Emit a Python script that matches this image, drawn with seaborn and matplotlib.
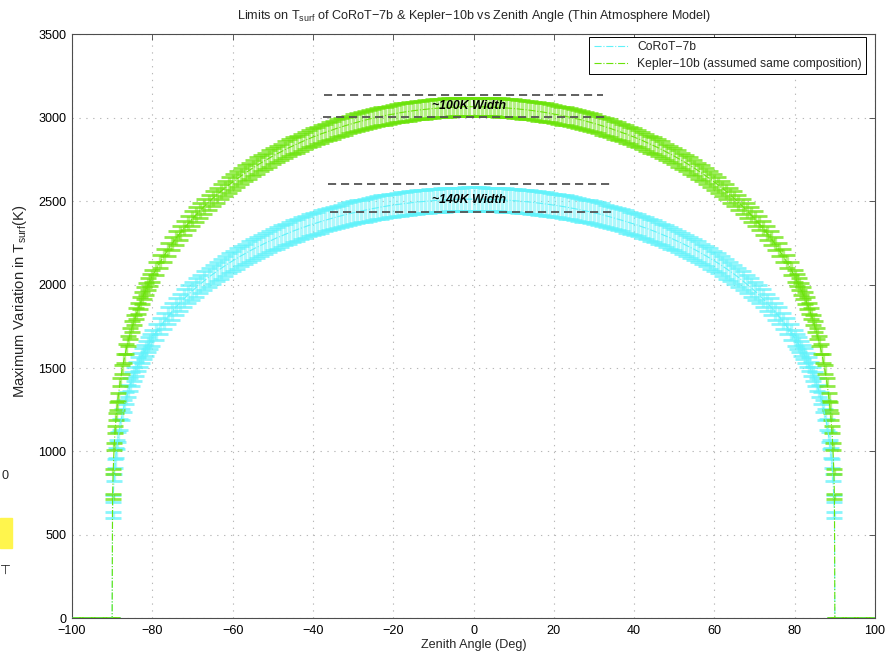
import matplotlib
matplotlib.use("Agg")
import matplotlib.pyplot as plt
import numpy as np
import pandas as pd
import seaborn as sns
from matplotlib.lines import Line2D
from matplotlib.patches import Rectangle

# Zenith angle samples (deg)
zenith_deg = [
    -100, -99, -98, -97, -96, -95, -94, -93, -92, -91, -90,
    -89.9, -89.75, -89.5, -89.25,
    -89, -88, -87, -86, -85, -84, -83, -82, -81, -80,
    -79, -78, -77, -76, -75, -74, -73, -72, -71, -70,
    -69, -68, -67, -66, -65, -64, -63, -62, -61, -60,
    -59, -58, -57, -56, -55, -54, -53, -52, -51, -50,
    -49, -48, -47, -46, -45, -44, -43, -42, -41, -40,
    -39, -38, -37, -36, -35, -34, -33, -32, -31, -30,
    -29, -28, -27, -26, -25, -24, -23, -22, -21, -20,
    -19, -18, -17, -16, -15, -14, -13, -12, -11, -10,
    -9, -8, -7, -6, -5, -4, -3, -2, -1,
    0,
    1, 2, 3, 4, 5, 6, 7, 8, 9,
    10, 11, 12, 13, 14, 15, 16, 17, 18, 19,
    20, 21, 22, 23, 24, 25, 26, 27, 28, 29,
    30, 31, 32, 33, 34, 35, 36, 37, 38, 39,
    40, 41, 42, 43, 44, 45, 46, 47, 48, 49,
    50, 51, 52, 53, 54, 55, 56, 57, 58, 59,
    60, 61, 62, 63, 64, 65, 66, 67, 68, 69,
    70, 71, 72, 73, 74, 75, 76, 77, 78, 79,
    80, 81, 82, 83, 84, 85, 86, 87, 88, 89,
    89.25, 89.5, 89.75, 89.9,
    90, 91, 92, 93, 94, 95, 96, 97, 98, 99, 100,
]

# Surface temperature of CoRoT-7b (K)
corot_tsurf = [
    0, 0, 0, 0, 0, 0, 0, 0, 0, 0, 0,
    620, 720, 844, 927,
    990, 1161, 1275, 1362, 1433, 1494, 1548, 1596, 1640, 1679,
    1716, 1750, 1782, 1812, 1841, 1868, 1893, 1917, 1941, 1963,
    1984, 2004, 2024, 2043, 2061, 2078, 2095, 2111, 2127, 2142,
    2156, 2171, 2184, 2198, 2211, 2223, 2235, 2247, 2258, 2269,
    2280, 2290, 2300, 2310, 2320, 2329, 2338, 2346, 2355, 2363,
    2370, 2378, 2385, 2392, 2399, 2406, 2412, 2419, 2425, 2430,
    2436, 2441, 2446, 2451, 2456, 2460, 2465, 2469, 2473, 2476,
    2480, 2483, 2486, 2489, 2492, 2495, 2497, 2499, 2501, 2503,
    2505, 2506, 2508, 2509, 2510, 2511, 2511, 2512, 2512,
    2512,
    2512, 2512, 2511, 2511, 2510, 2509, 2508, 2506, 2505,
    2503, 2501, 2499, 2497, 2495, 2492, 2489, 2486, 2483, 2480,
    2476, 2473, 2469, 2465, 2460, 2456, 2451, 2446, 2441, 2436,
    2430, 2425, 2419, 2412, 2406, 2399, 2392, 2385, 2378, 2370,
    2363, 2355, 2346, 2338, 2329, 2320, 2310, 2300, 2290, 2280,
    2269, 2258, 2247, 2235, 2223, 2211, 2198, 2184, 2171, 2156,
    2142, 2127, 2111, 2095, 2078, 2061, 2043, 2024, 2004, 1984,
    1963, 1941, 1917, 1893, 1868, 1841, 1812, 1782, 1750, 1716,
    1679, 1640, 1596, 1548, 1494, 1433, 1362, 1275, 1161, 990,
    927, 844, 720, 620,
    0, 0, 0, 0, 0, 0, 0, 0, 0, 0, 0,
]

# Surface temperature of Kepler-10b (K)
kepler_tsurf = [
    0, 0, 0, 0, 0, 0, 0, 0, 0, 0, 0,
    730, 878, 1030, 1131,
    1208, 1417, 1556, 1662, 1749, 1824, 1889, 1948, 2001, 2050,
    2095, 2136, 2175, 2212, 2247, 2280, 2311, 2340, 2369, 2396,
    2421, 2446, 2470, 2493, 2515, 2536, 2557, 2577, 2596, 2614,
    2632, 2649, 2666, 2682, 2698, 2713, 2728, 2742, 2756, 2770,
    2783, 2795, 2808, 2820, 2831, 2842, 2853, 2864, 2874, 2884,
    2893, 2903, 2911, 2920, 2928, 2937, 2944, 2952, 2959, 2966,
    2973, 2979, 2986, 2992, 2997, 3003, 3008, 3013, 3018, 3022,
    3027, 3031, 3035, 3038, 3042, 3045, 3048, 3050, 3053, 3055,
    3057, 3059, 3061, 3062, 3063, 3064, 3065, 3066, 3066,
    3066,
    3066, 3066, 3065, 3064, 3063, 3062, 3061, 3059, 3057,
    3055, 3053, 3050, 3048, 3045, 3042, 3038, 3035, 3031, 3027,
    3022, 3018, 3013, 3008, 3003, 2997, 2992, 2986, 2979, 2973,
    2966, 2959, 2952, 2944, 2937, 2928, 2920, 2911, 2903, 2893,
    2884, 2874, 2864, 2853, 2842, 2831, 2820, 2808, 2795, 2783,
    2770, 2756, 2742, 2728, 2713, 2698, 2682, 2666, 2649, 2632,
    2614, 2596, 2577, 2557, 2536, 2515, 2493, 2470, 2446, 2421,
    2396, 2369, 2340, 2311, 2280, 2247, 2212, 2175, 2136, 2095,
    2050, 2001, 1948, 1889, 1824, 1749, 1662, 1556, 1417, 1208,
    1131, 1030, 878, 730,
    0, 0, 0, 0, 0, 0, 0, 0, 0, 0, 0,
]

# Extra samples on the steep limbs (deg, K)
zenith_limb = [
    -88.75, -88.5, -87.5, -86.5, -85.5, -84.5, -83.5, -82.5, -81.5, -80.5,
    80.5, 81.5, 82.5, 83.5, 84.5, 85.5, 86.5, 87.5, 88.5, 88.75,
]
corot_limb = [
    1042, 1087, 1222, 1320, 1399, 1465, 1522, 1573, 1618, 1660,
    1660, 1618, 1573, 1522, 1465, 1399, 1320, 1222, 1087, 1042,
]
kepler_limb = [
    1272, 1326, 1492, 1612, 1707, 1788, 1858, 1920, 1975, 2026,
    2026, 1975, 1920, 1858, 1788, 1707, 1612, 1492, 1326, 1272,
]

# Relative half-width of each temperature limit
corot_rel_err = 0.028
kepler_rel_err = 0.018

series_names = ["CoRoT\u22127b", "Kepler\u221210b (assumed same composition)"]
x_ticks = [-100, -80, -60, -40, -20, 0, 20, 40, 60, 80, 100]
y_ticks = [0, 500, 1000, 1500, 2000, 2500, 3000, 3500]

# Width guide lines: (x start, x end) and level (K)
guide_x = [(-37.2, 32.3), (-37.6, 33.5), (-36.2, 34.5), (-35.7, 35.2)]
guide_T = [3135, 3005, 2602, 2436]
width_texts = ["~100K Width", "~140K Width"]
width_text_pos = [(-1.0, 3070), (-1.0, 2508)]

cyan = (0.38, 0.95, 0.98)
green = (0.42, 0.89, 0.04)

sns.set_theme(style="white")
plt.rcParams["font.family"] = ["Liberation Sans", "DejaVu Sans"]
plt.rcParams["mathtext.fontset"] = "custom"
plt.rcParams["mathtext.rm"] = "Liberation Sans"
plt.rcParams["mathtext.it"] = "Liberation Sans:italic"
plt.rcParams["axes.unicode_minus"] = True

FS = 9.1
fig = plt.figure(figsize=(8.85, 6.57), dpi=100)
fig.patch.set_facecolor("white")
ax = fig.add_axes([72 / 885, 1 - 618.3 / 657, 803 / 885, 584 / 657])

df = pd.DataFrame({
    "zenith": zenith_deg + zenith_limb,
    "corot": corot_tsurf + corot_limb,
    "kepler": kepler_tsurf + kepler_limb,
}).sort_values("zenith").reset_index(drop=True)


def draw_limits(col, rel_err, color):
    t = df[col].to_numpy(dtype=float)
    err = t * rel_err
    eb = ax.errorbar(df["zenith"], t, yerr=err, fmt="none", ecolor=color,
                     elinewidth=2.4, capsize=6.1, capthick=2.0, zorder=2)
    for bar in eb[2]:
        bar.set_alpha(0.5)
    for cap in eb[1]:
        cap.set_alpha(0.75)
    sns.lineplot(data=df, x="zenith", y=col, ax=ax, color=color,
                 linestyle="-.", linewidth=0.8, estimator=None, sort=False,
                 zorder=3)


draw_limits("corot", corot_rel_err, cyan)
draw_limits("kepler", kepler_rel_err, green)

# width guide lines and labels
for (x0, x1), t in zip(guide_x, guide_T):
    ax.plot([x0, x1], [t, t], color=(0.33, 0.33, 0.33), lw=1.3,
            linestyle=(0, (4.5, 2.7)), zorder=4)
for txt, (tx, ty) in zip(width_texts, width_text_pos):
    ax.text(tx, ty, txt, ha="center", va="center", fontsize=8.8,
            fontweight="bold", fontstyle="italic", color="black", zorder=5)

ax.set_xlim(-100, 100)
ax.set_ylim(0, 3500)
ax.set_xticks(x_ticks)
ax.set_yticks(y_ticks)
ax.grid(True, color=(0.72, 0.72, 0.72), linestyle=(0, (1.2, 5)), linewidth=0.8)
ax.tick_params(direction="in", length=4, width=0.6, color=(0.25, 0.25, 0.25),
               top=True, right=True, labelsize=FS, labelcolor="black")
ax.tick_params(axis="x", pad=5)
ax.tick_params(axis="y", pad=4)
for sp in ax.spines.values():
    sp.set_color((0.3, 0.3, 0.3))
    sp.set_linewidth(0.8)

ax.set_title("Limits on T$_{\\mathrm{surf}}$ of CoRoT\u22127b & Kepler\u221210b vs Zenith Angle (Thin Atmosphere Model)",
             fontsize=FS, pad=11)
ax.set_xlabel("Zenith Angle (Deg)", fontsize=FS, labelpad=1)
ax.set_ylabel("Maximum Variation in T$_{\\mathrm{surf}}$(K)", fontsize=10.6)
ax.yaxis.set_label_coords(-0.053, 0.543)

handles = [Line2D([0], [0], color=cyan, lw=0.8, linestyle="-."),
           Line2D([0], [0], color=green, lw=0.8, linestyle="-.")]
leg = ax.legend(handles, series_names, loc="upper right",
                bbox_to_anchor=(0.9888, 0.9954), fontsize=8.7, frameon=True,
                fancybox=False, edgecolor="black", framealpha=1,
                handlelength=2.9, handletextpad=0.7, labelspacing=0.4,
                borderpad=0.35, borderaxespad=0.0)
leg.get_frame().set_linewidth(0.7)

# fragments of the neighbouring panel at the left edge
fig.text(1 / 885, 1 - 476 / 657, "0", fontsize=FS, ha="left", va="center")
fig.patches.append(Rectangle((0, 1 - 548 / 657), 12 / 885, 30 / 657,
                             transform=fig.transFigure, color=(1.0, 0.96, 0.3),
                             zorder=0))
fig.text(0, 1 - 571 / 657, "\u22a4", fontsize=FS, ha="left", va="center")

fig.savefig("out.png", dpi=100, facecolor="white")
